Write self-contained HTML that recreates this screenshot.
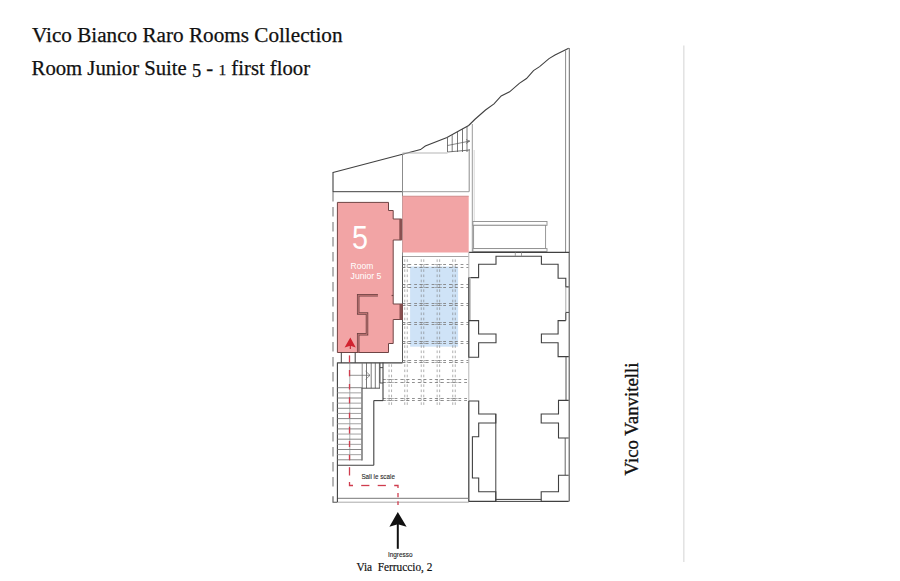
<!DOCTYPE html>
<html><head><meta charset="utf-8"><style>
html,body{margin:0;padding:0;background:#fff;width:900px;height:581px;overflow:hidden}
svg{display:block;font-family:"Liberation Sans",sans-serif}
</style></head><body>
<svg width="900" height="581" viewBox="0 0 900 581">
<polyline points="333,172.5 402.5,154.2 420.5,149.6 425.3,146 447,137.6 457.8,131.6 468.7,125.5 474.7,119.5 485.5,110 494,103.9 501.2,95.9 509.6,91.8 519.3,83.4 526.5,78.5 533.5,70.6 539.6,66.6 549,58.6 555,55 568.7,48.3" fill="none" stroke="#404040" stroke-width="1.1" stroke-linejoin="miter" />
<line x1="565.6" y1="50" x2="565.6" y2="252.5" stroke="#8c8c8c" stroke-width="1" />
<line x1="569.3" y1="48" x2="569.3" y2="252.5" stroke="#6a6a6a" stroke-width="1" />
<line x1="333" y1="172" x2="333" y2="192" stroke="#404040" stroke-width="1.1" />
<line x1="333" y1="191.7" x2="402.5" y2="191.7" stroke="#404040" stroke-width="1" />
<line x1="402.5" y1="191.7" x2="469" y2="191.7" stroke="#9c9c9c" stroke-width="1" />
<line x1="402.5" y1="154.2" x2="402.5" y2="256" stroke="#8c8c8c" stroke-width="1" />
<line x1="402.5" y1="153" x2="447.5" y2="153" stroke="#b5b5b5" stroke-width="1" />
<g stroke="#555" stroke-width="0.8">
<line x1="447.5" y1="137.8" x2="447.5" y2="152" stroke="#555" stroke-width="0.8" />
<line x1="452.2" y1="135.2" x2="452.2" y2="152" stroke="#555" stroke-width="0.8" />
<line x1="457.5" y1="131.9" x2="457.5" y2="152" stroke="#555" stroke-width="0.8" />
<line x1="462.5" y1="128.9" x2="462.5" y2="152" stroke="#555" stroke-width="0.8" />
<line x1="467" y1="126.5" x2="467" y2="152" stroke="#555" stroke-width="0.8" />
<line x1="447.5" y1="145.5" x2="470" y2="141" stroke="#555" stroke-width="0.7" />
<line x1="447.5" y1="152" x2="470" y2="150" stroke="#555" stroke-width="0.8" />
</g>
<polyline points="466,139.5 469.5,141.2 466,143.5" fill="none" stroke="#555" stroke-width="0.7" stroke-linejoin="miter" />
<line x1="469.2" y1="149" x2="469.2" y2="191.7" stroke="#8c8c8c" stroke-width="1" />
<line x1="472.3" y1="124" x2="472.3" y2="252.5" stroke="#9a9a9a" stroke-width="1" />
<line x1="474.2" y1="150" x2="474.2" y2="252.5" stroke="#d4d4d4" stroke-width="0.9" />
<rect x="472.9" y="221.5" width="74.1" height="3.8" fill="#fff" stroke="#8c8c8c" stroke-width="0.9"/>
<rect x="473.6" y="225.3" width="72" height="23.3" fill="#fff" stroke="#8c8c8c" stroke-width="0.9"/>
<rect x="472.9" y="248.6" width="74.1" height="2.8" fill="#fff" stroke="#8c8c8c" stroke-width="0.9"/>
<rect x="402.4" y="196" width="66.3" height="56.5" fill="#f2a4a5" stroke="none" stroke-width="1"/>
<line x1="402.4" y1="196.2" x2="468.7" y2="196.2" stroke="#c98a8a" stroke-width="0.8" />
<rect x="410.1" y="266.5" width="48" height="80.2" fill="#cfe3f7" stroke="none" stroke-width="1"/>
<line x1="402.6" y1="264.5" x2="468.7" y2="264.5" stroke="#7e7e7e" stroke-width="0.85" stroke-dasharray="2.8 3.0"/>
<line x1="402.6" y1="267.5" x2="468.7" y2="267.5" stroke="#7e7e7e" stroke-width="0.85" stroke-dasharray="2.8 3.0"/>
<line x1="402.6" y1="284.5" x2="468.7" y2="284.5" stroke="#7e7e7e" stroke-width="0.85" stroke-dasharray="2.8 3.0"/>
<line x1="402.6" y1="287.5" x2="468.7" y2="287.5" stroke="#7e7e7e" stroke-width="0.85" stroke-dasharray="2.8 3.0"/>
<line x1="402.6" y1="303.5" x2="468.7" y2="303.5" stroke="#7e7e7e" stroke-width="0.85" stroke-dasharray="2.8 3.0"/>
<line x1="402.6" y1="305.5" x2="468.7" y2="305.5" stroke="#7e7e7e" stroke-width="0.85" stroke-dasharray="2.8 3.0"/>
<line x1="402.6" y1="322.5" x2="468.7" y2="322.5" stroke="#7e7e7e" stroke-width="0.85" stroke-dasharray="2.8 3.0"/>
<line x1="402.6" y1="324.5" x2="468.7" y2="324.5" stroke="#7e7e7e" stroke-width="0.85" stroke-dasharray="2.8 3.0"/>
<line x1="402.6" y1="341.5" x2="468.7" y2="341.5" stroke="#7e7e7e" stroke-width="0.85" stroke-dasharray="2.8 3.0"/>
<line x1="402.6" y1="343.5" x2="468.7" y2="343.5" stroke="#7e7e7e" stroke-width="0.85" stroke-dasharray="2.8 3.0"/>
<line x1="402.6" y1="360.5" x2="468.7" y2="360.5" stroke="#7e7e7e" stroke-width="0.85" stroke-dasharray="2.8 3.0"/>
<line x1="402.6" y1="362.5" x2="468.7" y2="362.5" stroke="#7e7e7e" stroke-width="0.85" stroke-dasharray="2.8 3.0"/>
<line x1="383" y1="379.5" x2="468.7" y2="379.5" stroke="#7e7e7e" stroke-width="0.85" stroke-dasharray="2.8 3.0"/>
<line x1="383" y1="382.5" x2="468.7" y2="382.5" stroke="#7e7e7e" stroke-width="0.85" stroke-dasharray="2.8 3.0"/>
<line x1="383" y1="398.5" x2="468.7" y2="398.5" stroke="#7e7e7e" stroke-width="0.85" stroke-dasharray="2.8 3.0"/>
<line x1="383" y1="400.5" x2="468.7" y2="400.5" stroke="#7e7e7e" stroke-width="0.85" stroke-dasharray="2.8 3.0"/>
<line x1="402.6" y1="256.5" x2="468.7" y2="256.5" stroke="#9a9a9a" stroke-width="0.9" />
<line x1="402.5" y1="256" x2="402.5" y2="362.4" stroke="#555" stroke-width="1" />
<line x1="404.75" y1="259.3" x2="404.75" y2="261.90000000000003" stroke="#7a7a7a" stroke-width="0.6" />
<line x1="407.25" y1="259.3" x2="407.25" y2="261.90000000000003" stroke="#7a7a7a" stroke-width="0.6" />
<line x1="404.75" y1="269.3" x2="404.75" y2="271.90000000000003" stroke="#7a7a7a" stroke-width="0.6" />
<line x1="407.25" y1="269.3" x2="407.25" y2="271.90000000000003" stroke="#7a7a7a" stroke-width="0.6" />
<line x1="404.75" y1="274.5" x2="404.75" y2="277.1" stroke="#7a7a7a" stroke-width="0.6" />
<line x1="407.25" y1="274.5" x2="407.25" y2="277.1" stroke="#7a7a7a" stroke-width="0.6" />
<line x1="404.75" y1="279.7" x2="404.75" y2="282.3" stroke="#7a7a7a" stroke-width="0.6" />
<line x1="407.25" y1="279.7" x2="407.25" y2="282.3" stroke="#7a7a7a" stroke-width="0.6" />
<line x1="404.75" y1="289.3" x2="404.75" y2="291.90000000000003" stroke="#7a7a7a" stroke-width="0.6" />
<line x1="407.25" y1="289.3" x2="407.25" y2="291.90000000000003" stroke="#7a7a7a" stroke-width="0.6" />
<line x1="404.75" y1="294.5" x2="404.75" y2="297.1" stroke="#7a7a7a" stroke-width="0.6" />
<line x1="407.25" y1="294.5" x2="407.25" y2="297.1" stroke="#7a7a7a" stroke-width="0.6" />
<line x1="404.75" y1="299.7" x2="404.75" y2="302.3" stroke="#7a7a7a" stroke-width="0.6" />
<line x1="407.25" y1="299.7" x2="407.25" y2="302.3" stroke="#7a7a7a" stroke-width="0.6" />
<line x1="404.75" y1="307.3" x2="404.75" y2="309.90000000000003" stroke="#7a7a7a" stroke-width="0.6" />
<line x1="407.25" y1="307.3" x2="407.25" y2="309.90000000000003" stroke="#7a7a7a" stroke-width="0.6" />
<line x1="404.75" y1="312.5" x2="404.75" y2="315.1" stroke="#7a7a7a" stroke-width="0.6" />
<line x1="407.25" y1="312.5" x2="407.25" y2="315.1" stroke="#7a7a7a" stroke-width="0.6" />
<line x1="404.75" y1="317.7" x2="404.75" y2="320.3" stroke="#7a7a7a" stroke-width="0.6" />
<line x1="407.25" y1="317.7" x2="407.25" y2="320.3" stroke="#7a7a7a" stroke-width="0.6" />
<line x1="404.75" y1="326.3" x2="404.75" y2="328.90000000000003" stroke="#7a7a7a" stroke-width="0.6" />
<line x1="407.25" y1="326.3" x2="407.25" y2="328.90000000000003" stroke="#7a7a7a" stroke-width="0.6" />
<line x1="404.75" y1="331.5" x2="404.75" y2="334.1" stroke="#7a7a7a" stroke-width="0.6" />
<line x1="407.25" y1="331.5" x2="407.25" y2="334.1" stroke="#7a7a7a" stroke-width="0.6" />
<line x1="404.75" y1="336.7" x2="404.75" y2="339.3" stroke="#7a7a7a" stroke-width="0.6" />
<line x1="407.25" y1="336.7" x2="407.25" y2="339.3" stroke="#7a7a7a" stroke-width="0.6" />
<line x1="404.75" y1="345.3" x2="404.75" y2="347.90000000000003" stroke="#7a7a7a" stroke-width="0.6" />
<line x1="407.25" y1="345.3" x2="407.25" y2="347.90000000000003" stroke="#7a7a7a" stroke-width="0.6" />
<line x1="404.75" y1="350.5" x2="404.75" y2="353.1" stroke="#7a7a7a" stroke-width="0.6" />
<line x1="407.25" y1="350.5" x2="407.25" y2="353.1" stroke="#7a7a7a" stroke-width="0.6" />
<line x1="404.75" y1="355.7" x2="404.75" y2="358.3" stroke="#7a7a7a" stroke-width="0.6" />
<line x1="407.25" y1="355.7" x2="407.25" y2="358.3" stroke="#7a7a7a" stroke-width="0.6" />
<line x1="404.75" y1="364.3" x2="404.75" y2="366.90000000000003" stroke="#7a7a7a" stroke-width="0.6" />
<line x1="407.25" y1="364.3" x2="407.25" y2="366.90000000000003" stroke="#7a7a7a" stroke-width="0.6" />
<line x1="404.75" y1="369.5" x2="404.75" y2="372.1" stroke="#7a7a7a" stroke-width="0.6" />
<line x1="407.25" y1="369.5" x2="407.25" y2="372.1" stroke="#7a7a7a" stroke-width="0.6" />
<line x1="404.75" y1="374.7" x2="404.75" y2="377.3" stroke="#7a7a7a" stroke-width="0.6" />
<line x1="407.25" y1="374.7" x2="407.25" y2="377.3" stroke="#7a7a7a" stroke-width="0.6" />
<line x1="404.75" y1="384.3" x2="404.75" y2="386.90000000000003" stroke="#7a7a7a" stroke-width="0.6" />
<line x1="407.25" y1="384.3" x2="407.25" y2="386.90000000000003" stroke="#7a7a7a" stroke-width="0.6" />
<line x1="404.75" y1="389.5" x2="404.75" y2="392.1" stroke="#7a7a7a" stroke-width="0.6" />
<line x1="407.25" y1="389.5" x2="407.25" y2="392.1" stroke="#7a7a7a" stroke-width="0.6" />
<line x1="404.75" y1="394.7" x2="404.75" y2="397.3" stroke="#7a7a7a" stroke-width="0.6" />
<line x1="407.25" y1="394.7" x2="407.25" y2="397.3" stroke="#7a7a7a" stroke-width="0.6" />
<line x1="404.75" y1="402.3" x2="404.75" y2="404.90000000000003" stroke="#7a7a7a" stroke-width="0.6" />
<line x1="407.25" y1="402.3" x2="407.25" y2="404.90000000000003" stroke="#7a7a7a" stroke-width="0.6" />
<line x1="421.25" y1="259.3" x2="421.25" y2="261.90000000000003" stroke="#7a7a7a" stroke-width="0.6" />
<line x1="423.75" y1="259.3" x2="423.75" y2="261.90000000000003" stroke="#7a7a7a" stroke-width="0.6" />
<line x1="421.25" y1="269.3" x2="421.25" y2="271.90000000000003" stroke="#7a7a7a" stroke-width="0.6" />
<line x1="423.75" y1="269.3" x2="423.75" y2="271.90000000000003" stroke="#7a7a7a" stroke-width="0.6" />
<line x1="421.25" y1="274.5" x2="421.25" y2="277.1" stroke="#7a7a7a" stroke-width="0.6" />
<line x1="423.75" y1="274.5" x2="423.75" y2="277.1" stroke="#7a7a7a" stroke-width="0.6" />
<line x1="421.25" y1="279.7" x2="421.25" y2="282.3" stroke="#7a7a7a" stroke-width="0.6" />
<line x1="423.75" y1="279.7" x2="423.75" y2="282.3" stroke="#7a7a7a" stroke-width="0.6" />
<line x1="421.25" y1="289.3" x2="421.25" y2="291.90000000000003" stroke="#7a7a7a" stroke-width="0.6" />
<line x1="423.75" y1="289.3" x2="423.75" y2="291.90000000000003" stroke="#7a7a7a" stroke-width="0.6" />
<line x1="421.25" y1="294.5" x2="421.25" y2="297.1" stroke="#7a7a7a" stroke-width="0.6" />
<line x1="423.75" y1="294.5" x2="423.75" y2="297.1" stroke="#7a7a7a" stroke-width="0.6" />
<line x1="421.25" y1="299.7" x2="421.25" y2="302.3" stroke="#7a7a7a" stroke-width="0.6" />
<line x1="423.75" y1="299.7" x2="423.75" y2="302.3" stroke="#7a7a7a" stroke-width="0.6" />
<line x1="421.25" y1="307.3" x2="421.25" y2="309.90000000000003" stroke="#7a7a7a" stroke-width="0.6" />
<line x1="423.75" y1="307.3" x2="423.75" y2="309.90000000000003" stroke="#7a7a7a" stroke-width="0.6" />
<line x1="421.25" y1="312.5" x2="421.25" y2="315.1" stroke="#7a7a7a" stroke-width="0.6" />
<line x1="423.75" y1="312.5" x2="423.75" y2="315.1" stroke="#7a7a7a" stroke-width="0.6" />
<line x1="421.25" y1="317.7" x2="421.25" y2="320.3" stroke="#7a7a7a" stroke-width="0.6" />
<line x1="423.75" y1="317.7" x2="423.75" y2="320.3" stroke="#7a7a7a" stroke-width="0.6" />
<line x1="421.25" y1="326.3" x2="421.25" y2="328.90000000000003" stroke="#7a7a7a" stroke-width="0.6" />
<line x1="423.75" y1="326.3" x2="423.75" y2="328.90000000000003" stroke="#7a7a7a" stroke-width="0.6" />
<line x1="421.25" y1="331.5" x2="421.25" y2="334.1" stroke="#7a7a7a" stroke-width="0.6" />
<line x1="423.75" y1="331.5" x2="423.75" y2="334.1" stroke="#7a7a7a" stroke-width="0.6" />
<line x1="421.25" y1="336.7" x2="421.25" y2="339.3" stroke="#7a7a7a" stroke-width="0.6" />
<line x1="423.75" y1="336.7" x2="423.75" y2="339.3" stroke="#7a7a7a" stroke-width="0.6" />
<line x1="421.25" y1="345.3" x2="421.25" y2="347.90000000000003" stroke="#7a7a7a" stroke-width="0.6" />
<line x1="423.75" y1="345.3" x2="423.75" y2="347.90000000000003" stroke="#7a7a7a" stroke-width="0.6" />
<line x1="421.25" y1="350.5" x2="421.25" y2="353.1" stroke="#7a7a7a" stroke-width="0.6" />
<line x1="423.75" y1="350.5" x2="423.75" y2="353.1" stroke="#7a7a7a" stroke-width="0.6" />
<line x1="421.25" y1="355.7" x2="421.25" y2="358.3" stroke="#7a7a7a" stroke-width="0.6" />
<line x1="423.75" y1="355.7" x2="423.75" y2="358.3" stroke="#7a7a7a" stroke-width="0.6" />
<line x1="421.25" y1="364.3" x2="421.25" y2="366.90000000000003" stroke="#7a7a7a" stroke-width="0.6" />
<line x1="423.75" y1="364.3" x2="423.75" y2="366.90000000000003" stroke="#7a7a7a" stroke-width="0.6" />
<line x1="421.25" y1="369.5" x2="421.25" y2="372.1" stroke="#7a7a7a" stroke-width="0.6" />
<line x1="423.75" y1="369.5" x2="423.75" y2="372.1" stroke="#7a7a7a" stroke-width="0.6" />
<line x1="421.25" y1="374.7" x2="421.25" y2="377.3" stroke="#7a7a7a" stroke-width="0.6" />
<line x1="423.75" y1="374.7" x2="423.75" y2="377.3" stroke="#7a7a7a" stroke-width="0.6" />
<line x1="421.25" y1="384.3" x2="421.25" y2="386.90000000000003" stroke="#7a7a7a" stroke-width="0.6" />
<line x1="423.75" y1="384.3" x2="423.75" y2="386.90000000000003" stroke="#7a7a7a" stroke-width="0.6" />
<line x1="421.25" y1="389.5" x2="421.25" y2="392.1" stroke="#7a7a7a" stroke-width="0.6" />
<line x1="423.75" y1="389.5" x2="423.75" y2="392.1" stroke="#7a7a7a" stroke-width="0.6" />
<line x1="421.25" y1="394.7" x2="421.25" y2="397.3" stroke="#7a7a7a" stroke-width="0.6" />
<line x1="423.75" y1="394.7" x2="423.75" y2="397.3" stroke="#7a7a7a" stroke-width="0.6" />
<line x1="421.25" y1="402.3" x2="421.25" y2="404.90000000000003" stroke="#7a7a7a" stroke-width="0.6" />
<line x1="423.75" y1="402.3" x2="423.75" y2="404.90000000000003" stroke="#7a7a7a" stroke-width="0.6" />
<line x1="437.15" y1="259.3" x2="437.15" y2="261.90000000000003" stroke="#7a7a7a" stroke-width="0.6" />
<line x1="439.65" y1="259.3" x2="439.65" y2="261.90000000000003" stroke="#7a7a7a" stroke-width="0.6" />
<line x1="437.15" y1="269.3" x2="437.15" y2="271.90000000000003" stroke="#7a7a7a" stroke-width="0.6" />
<line x1="439.65" y1="269.3" x2="439.65" y2="271.90000000000003" stroke="#7a7a7a" stroke-width="0.6" />
<line x1="437.15" y1="274.5" x2="437.15" y2="277.1" stroke="#7a7a7a" stroke-width="0.6" />
<line x1="439.65" y1="274.5" x2="439.65" y2="277.1" stroke="#7a7a7a" stroke-width="0.6" />
<line x1="437.15" y1="279.7" x2="437.15" y2="282.3" stroke="#7a7a7a" stroke-width="0.6" />
<line x1="439.65" y1="279.7" x2="439.65" y2="282.3" stroke="#7a7a7a" stroke-width="0.6" />
<line x1="437.15" y1="289.3" x2="437.15" y2="291.90000000000003" stroke="#7a7a7a" stroke-width="0.6" />
<line x1="439.65" y1="289.3" x2="439.65" y2="291.90000000000003" stroke="#7a7a7a" stroke-width="0.6" />
<line x1="437.15" y1="294.5" x2="437.15" y2="297.1" stroke="#7a7a7a" stroke-width="0.6" />
<line x1="439.65" y1="294.5" x2="439.65" y2="297.1" stroke="#7a7a7a" stroke-width="0.6" />
<line x1="437.15" y1="299.7" x2="437.15" y2="302.3" stroke="#7a7a7a" stroke-width="0.6" />
<line x1="439.65" y1="299.7" x2="439.65" y2="302.3" stroke="#7a7a7a" stroke-width="0.6" />
<line x1="437.15" y1="307.3" x2="437.15" y2="309.90000000000003" stroke="#7a7a7a" stroke-width="0.6" />
<line x1="439.65" y1="307.3" x2="439.65" y2="309.90000000000003" stroke="#7a7a7a" stroke-width="0.6" />
<line x1="437.15" y1="312.5" x2="437.15" y2="315.1" stroke="#7a7a7a" stroke-width="0.6" />
<line x1="439.65" y1="312.5" x2="439.65" y2="315.1" stroke="#7a7a7a" stroke-width="0.6" />
<line x1="437.15" y1="317.7" x2="437.15" y2="320.3" stroke="#7a7a7a" stroke-width="0.6" />
<line x1="439.65" y1="317.7" x2="439.65" y2="320.3" stroke="#7a7a7a" stroke-width="0.6" />
<line x1="437.15" y1="326.3" x2="437.15" y2="328.90000000000003" stroke="#7a7a7a" stroke-width="0.6" />
<line x1="439.65" y1="326.3" x2="439.65" y2="328.90000000000003" stroke="#7a7a7a" stroke-width="0.6" />
<line x1="437.15" y1="331.5" x2="437.15" y2="334.1" stroke="#7a7a7a" stroke-width="0.6" />
<line x1="439.65" y1="331.5" x2="439.65" y2="334.1" stroke="#7a7a7a" stroke-width="0.6" />
<line x1="437.15" y1="336.7" x2="437.15" y2="339.3" stroke="#7a7a7a" stroke-width="0.6" />
<line x1="439.65" y1="336.7" x2="439.65" y2="339.3" stroke="#7a7a7a" stroke-width="0.6" />
<line x1="437.15" y1="345.3" x2="437.15" y2="347.90000000000003" stroke="#7a7a7a" stroke-width="0.6" />
<line x1="439.65" y1="345.3" x2="439.65" y2="347.90000000000003" stroke="#7a7a7a" stroke-width="0.6" />
<line x1="437.15" y1="350.5" x2="437.15" y2="353.1" stroke="#7a7a7a" stroke-width="0.6" />
<line x1="439.65" y1="350.5" x2="439.65" y2="353.1" stroke="#7a7a7a" stroke-width="0.6" />
<line x1="437.15" y1="355.7" x2="437.15" y2="358.3" stroke="#7a7a7a" stroke-width="0.6" />
<line x1="439.65" y1="355.7" x2="439.65" y2="358.3" stroke="#7a7a7a" stroke-width="0.6" />
<line x1="437.15" y1="364.3" x2="437.15" y2="366.90000000000003" stroke="#7a7a7a" stroke-width="0.6" />
<line x1="439.65" y1="364.3" x2="439.65" y2="366.90000000000003" stroke="#7a7a7a" stroke-width="0.6" />
<line x1="437.15" y1="369.5" x2="437.15" y2="372.1" stroke="#7a7a7a" stroke-width="0.6" />
<line x1="439.65" y1="369.5" x2="439.65" y2="372.1" stroke="#7a7a7a" stroke-width="0.6" />
<line x1="437.15" y1="374.7" x2="437.15" y2="377.3" stroke="#7a7a7a" stroke-width="0.6" />
<line x1="439.65" y1="374.7" x2="439.65" y2="377.3" stroke="#7a7a7a" stroke-width="0.6" />
<line x1="437.15" y1="384.3" x2="437.15" y2="386.90000000000003" stroke="#7a7a7a" stroke-width="0.6" />
<line x1="439.65" y1="384.3" x2="439.65" y2="386.90000000000003" stroke="#7a7a7a" stroke-width="0.6" />
<line x1="437.15" y1="389.5" x2="437.15" y2="392.1" stroke="#7a7a7a" stroke-width="0.6" />
<line x1="439.65" y1="389.5" x2="439.65" y2="392.1" stroke="#7a7a7a" stroke-width="0.6" />
<line x1="437.15" y1="394.7" x2="437.15" y2="397.3" stroke="#7a7a7a" stroke-width="0.6" />
<line x1="439.65" y1="394.7" x2="439.65" y2="397.3" stroke="#7a7a7a" stroke-width="0.6" />
<line x1="437.15" y1="402.3" x2="437.15" y2="404.90000000000003" stroke="#7a7a7a" stroke-width="0.6" />
<line x1="439.65" y1="402.3" x2="439.65" y2="404.90000000000003" stroke="#7a7a7a" stroke-width="0.6" />
<line x1="452.75" y1="259.3" x2="452.75" y2="261.90000000000003" stroke="#7a7a7a" stroke-width="0.6" />
<line x1="455.25" y1="259.3" x2="455.25" y2="261.90000000000003" stroke="#7a7a7a" stroke-width="0.6" />
<line x1="452.75" y1="269.3" x2="452.75" y2="271.90000000000003" stroke="#7a7a7a" stroke-width="0.6" />
<line x1="455.25" y1="269.3" x2="455.25" y2="271.90000000000003" stroke="#7a7a7a" stroke-width="0.6" />
<line x1="452.75" y1="274.5" x2="452.75" y2="277.1" stroke="#7a7a7a" stroke-width="0.6" />
<line x1="455.25" y1="274.5" x2="455.25" y2="277.1" stroke="#7a7a7a" stroke-width="0.6" />
<line x1="452.75" y1="279.7" x2="452.75" y2="282.3" stroke="#7a7a7a" stroke-width="0.6" />
<line x1="455.25" y1="279.7" x2="455.25" y2="282.3" stroke="#7a7a7a" stroke-width="0.6" />
<line x1="452.75" y1="289.3" x2="452.75" y2="291.90000000000003" stroke="#7a7a7a" stroke-width="0.6" />
<line x1="455.25" y1="289.3" x2="455.25" y2="291.90000000000003" stroke="#7a7a7a" stroke-width="0.6" />
<line x1="452.75" y1="294.5" x2="452.75" y2="297.1" stroke="#7a7a7a" stroke-width="0.6" />
<line x1="455.25" y1="294.5" x2="455.25" y2="297.1" stroke="#7a7a7a" stroke-width="0.6" />
<line x1="452.75" y1="299.7" x2="452.75" y2="302.3" stroke="#7a7a7a" stroke-width="0.6" />
<line x1="455.25" y1="299.7" x2="455.25" y2="302.3" stroke="#7a7a7a" stroke-width="0.6" />
<line x1="452.75" y1="307.3" x2="452.75" y2="309.90000000000003" stroke="#7a7a7a" stroke-width="0.6" />
<line x1="455.25" y1="307.3" x2="455.25" y2="309.90000000000003" stroke="#7a7a7a" stroke-width="0.6" />
<line x1="452.75" y1="312.5" x2="452.75" y2="315.1" stroke="#7a7a7a" stroke-width="0.6" />
<line x1="455.25" y1="312.5" x2="455.25" y2="315.1" stroke="#7a7a7a" stroke-width="0.6" />
<line x1="452.75" y1="317.7" x2="452.75" y2="320.3" stroke="#7a7a7a" stroke-width="0.6" />
<line x1="455.25" y1="317.7" x2="455.25" y2="320.3" stroke="#7a7a7a" stroke-width="0.6" />
<line x1="452.75" y1="326.3" x2="452.75" y2="328.90000000000003" stroke="#7a7a7a" stroke-width="0.6" />
<line x1="455.25" y1="326.3" x2="455.25" y2="328.90000000000003" stroke="#7a7a7a" stroke-width="0.6" />
<line x1="452.75" y1="331.5" x2="452.75" y2="334.1" stroke="#7a7a7a" stroke-width="0.6" />
<line x1="455.25" y1="331.5" x2="455.25" y2="334.1" stroke="#7a7a7a" stroke-width="0.6" />
<line x1="452.75" y1="336.7" x2="452.75" y2="339.3" stroke="#7a7a7a" stroke-width="0.6" />
<line x1="455.25" y1="336.7" x2="455.25" y2="339.3" stroke="#7a7a7a" stroke-width="0.6" />
<line x1="452.75" y1="345.3" x2="452.75" y2="347.90000000000003" stroke="#7a7a7a" stroke-width="0.6" />
<line x1="455.25" y1="345.3" x2="455.25" y2="347.90000000000003" stroke="#7a7a7a" stroke-width="0.6" />
<line x1="452.75" y1="350.5" x2="452.75" y2="353.1" stroke="#7a7a7a" stroke-width="0.6" />
<line x1="455.25" y1="350.5" x2="455.25" y2="353.1" stroke="#7a7a7a" stroke-width="0.6" />
<line x1="452.75" y1="355.7" x2="452.75" y2="358.3" stroke="#7a7a7a" stroke-width="0.6" />
<line x1="455.25" y1="355.7" x2="455.25" y2="358.3" stroke="#7a7a7a" stroke-width="0.6" />
<line x1="452.75" y1="364.3" x2="452.75" y2="366.90000000000003" stroke="#7a7a7a" stroke-width="0.6" />
<line x1="455.25" y1="364.3" x2="455.25" y2="366.90000000000003" stroke="#7a7a7a" stroke-width="0.6" />
<line x1="452.75" y1="369.5" x2="452.75" y2="372.1" stroke="#7a7a7a" stroke-width="0.6" />
<line x1="455.25" y1="369.5" x2="455.25" y2="372.1" stroke="#7a7a7a" stroke-width="0.6" />
<line x1="452.75" y1="374.7" x2="452.75" y2="377.3" stroke="#7a7a7a" stroke-width="0.6" />
<line x1="455.25" y1="374.7" x2="455.25" y2="377.3" stroke="#7a7a7a" stroke-width="0.6" />
<line x1="452.75" y1="384.3" x2="452.75" y2="386.90000000000003" stroke="#7a7a7a" stroke-width="0.6" />
<line x1="455.25" y1="384.3" x2="455.25" y2="386.90000000000003" stroke="#7a7a7a" stroke-width="0.6" />
<line x1="452.75" y1="389.5" x2="452.75" y2="392.1" stroke="#7a7a7a" stroke-width="0.6" />
<line x1="455.25" y1="389.5" x2="455.25" y2="392.1" stroke="#7a7a7a" stroke-width="0.6" />
<line x1="452.75" y1="394.7" x2="452.75" y2="397.3" stroke="#7a7a7a" stroke-width="0.6" />
<line x1="455.25" y1="394.7" x2="455.25" y2="397.3" stroke="#7a7a7a" stroke-width="0.6" />
<line x1="452.75" y1="402.3" x2="452.75" y2="404.90000000000003" stroke="#7a7a7a" stroke-width="0.6" />
<line x1="455.25" y1="402.3" x2="455.25" y2="404.90000000000003" stroke="#7a7a7a" stroke-width="0.6" />
<line x1="389.05" y1="364.3" x2="389.05" y2="366.90000000000003" stroke="#7a7a7a" stroke-width="0.6" />
<line x1="391.55" y1="364.3" x2="391.55" y2="366.90000000000003" stroke="#7a7a7a" stroke-width="0.6" />
<line x1="389.05" y1="369.5" x2="389.05" y2="372.1" stroke="#7a7a7a" stroke-width="0.6" />
<line x1="391.55" y1="369.5" x2="391.55" y2="372.1" stroke="#7a7a7a" stroke-width="0.6" />
<line x1="389.05" y1="374.7" x2="389.05" y2="377.3" stroke="#7a7a7a" stroke-width="0.6" />
<line x1="391.55" y1="374.7" x2="391.55" y2="377.3" stroke="#7a7a7a" stroke-width="0.6" />
<line x1="389.05" y1="384.3" x2="389.05" y2="386.90000000000003" stroke="#7a7a7a" stroke-width="0.6" />
<line x1="391.55" y1="384.3" x2="391.55" y2="386.90000000000003" stroke="#7a7a7a" stroke-width="0.6" />
<line x1="389.05" y1="389.5" x2="389.05" y2="392.1" stroke="#7a7a7a" stroke-width="0.6" />
<line x1="391.55" y1="389.5" x2="391.55" y2="392.1" stroke="#7a7a7a" stroke-width="0.6" />
<line x1="389.05" y1="394.7" x2="389.05" y2="397.3" stroke="#7a7a7a" stroke-width="0.6" />
<line x1="391.55" y1="394.7" x2="391.55" y2="397.3" stroke="#7a7a7a" stroke-width="0.6" />
<line x1="389.05" y1="402.3" x2="389.05" y2="404.90000000000003" stroke="#7a7a7a" stroke-width="0.6" />
<line x1="391.55" y1="402.3" x2="391.55" y2="404.90000000000003" stroke="#7a7a7a" stroke-width="0.6" />
<path d="M402.4,264.5 H404.75 V267.5 H402.4 M409.6,264.5 H407.25 V267.5 H409.6" fill="none" stroke="#858585" stroke-width="0.6"/>
<path d="M418.9,264.5 H421.25 V267.5 H418.9 M426.1,264.5 H423.75 V267.5 H426.1" fill="none" stroke="#858585" stroke-width="0.6"/>
<path d="M434.79999999999995,264.5 H437.15 V267.5 H434.79999999999995 M442.0,264.5 H439.65 V267.5 H442.0" fill="none" stroke="#858585" stroke-width="0.6"/>
<path d="M450.4,264.5 H452.75 V267.5 H450.4 M457.6,264.5 H455.25 V267.5 H457.6" fill="none" stroke="#858585" stroke-width="0.6"/>
<path d="M402.4,284.5 H404.75 V287.5 H402.4 M409.6,284.5 H407.25 V287.5 H409.6" fill="none" stroke="#858585" stroke-width="0.6"/>
<path d="M418.9,284.5 H421.25 V287.5 H418.9 M426.1,284.5 H423.75 V287.5 H426.1" fill="none" stroke="#858585" stroke-width="0.6"/>
<path d="M434.79999999999995,284.5 H437.15 V287.5 H434.79999999999995 M442.0,284.5 H439.65 V287.5 H442.0" fill="none" stroke="#858585" stroke-width="0.6"/>
<path d="M450.4,284.5 H452.75 V287.5 H450.4 M457.6,284.5 H455.25 V287.5 H457.6" fill="none" stroke="#858585" stroke-width="0.6"/>
<path d="M402.4,303.5 H404.75 V305.5 H402.4 M409.6,303.5 H407.25 V305.5 H409.6" fill="none" stroke="#858585" stroke-width="0.6"/>
<path d="M418.9,303.5 H421.25 V305.5 H418.9 M426.1,303.5 H423.75 V305.5 H426.1" fill="none" stroke="#858585" stroke-width="0.6"/>
<path d="M434.79999999999995,303.5 H437.15 V305.5 H434.79999999999995 M442.0,303.5 H439.65 V305.5 H442.0" fill="none" stroke="#858585" stroke-width="0.6"/>
<path d="M450.4,303.5 H452.75 V305.5 H450.4 M457.6,303.5 H455.25 V305.5 H457.6" fill="none" stroke="#858585" stroke-width="0.6"/>
<path d="M402.4,322.5 H404.75 V324.5 H402.4 M409.6,322.5 H407.25 V324.5 H409.6" fill="none" stroke="#858585" stroke-width="0.6"/>
<path d="M418.9,322.5 H421.25 V324.5 H418.9 M426.1,322.5 H423.75 V324.5 H426.1" fill="none" stroke="#858585" stroke-width="0.6"/>
<path d="M434.79999999999995,322.5 H437.15 V324.5 H434.79999999999995 M442.0,322.5 H439.65 V324.5 H442.0" fill="none" stroke="#858585" stroke-width="0.6"/>
<path d="M450.4,322.5 H452.75 V324.5 H450.4 M457.6,322.5 H455.25 V324.5 H457.6" fill="none" stroke="#858585" stroke-width="0.6"/>
<path d="M402.4,341.5 H404.75 V343.5 H402.4 M409.6,341.5 H407.25 V343.5 H409.6" fill="none" stroke="#858585" stroke-width="0.6"/>
<path d="M418.9,341.5 H421.25 V343.5 H418.9 M426.1,341.5 H423.75 V343.5 H426.1" fill="none" stroke="#858585" stroke-width="0.6"/>
<path d="M434.79999999999995,341.5 H437.15 V343.5 H434.79999999999995 M442.0,341.5 H439.65 V343.5 H442.0" fill="none" stroke="#858585" stroke-width="0.6"/>
<path d="M450.4,341.5 H452.75 V343.5 H450.4 M457.6,341.5 H455.25 V343.5 H457.6" fill="none" stroke="#858585" stroke-width="0.6"/>
<path d="M402.4,360.5 H404.75 V362.5 H402.4 M409.6,360.5 H407.25 V362.5 H409.6" fill="none" stroke="#858585" stroke-width="0.6"/>
<path d="M418.9,360.5 H421.25 V362.5 H418.9 M426.1,360.5 H423.75 V362.5 H426.1" fill="none" stroke="#858585" stroke-width="0.6"/>
<path d="M434.79999999999995,360.5 H437.15 V362.5 H434.79999999999995 M442.0,360.5 H439.65 V362.5 H442.0" fill="none" stroke="#858585" stroke-width="0.6"/>
<path d="M450.4,360.5 H452.75 V362.5 H450.4 M457.6,360.5 H455.25 V362.5 H457.6" fill="none" stroke="#858585" stroke-width="0.6"/>
<path d="M402.4,379.5 H404.75 V382.5 H402.4 M409.6,379.5 H407.25 V382.5 H409.6" fill="none" stroke="#858585" stroke-width="0.6"/>
<path d="M418.9,379.5 H421.25 V382.5 H418.9 M426.1,379.5 H423.75 V382.5 H426.1" fill="none" stroke="#858585" stroke-width="0.6"/>
<path d="M434.79999999999995,379.5 H437.15 V382.5 H434.79999999999995 M442.0,379.5 H439.65 V382.5 H442.0" fill="none" stroke="#858585" stroke-width="0.6"/>
<path d="M450.4,379.5 H452.75 V382.5 H450.4 M457.6,379.5 H455.25 V382.5 H457.6" fill="none" stroke="#858585" stroke-width="0.6"/>
<path d="M386.7,379.5 H389.05 V382.5 H386.7 M393.90000000000003,379.5 H391.55 V382.5 H393.90000000000003" fill="none" stroke="#858585" stroke-width="0.6"/>
<path d="M402.4,398.5 H404.75 V400.5 H402.4 M409.6,398.5 H407.25 V400.5 H409.6" fill="none" stroke="#858585" stroke-width="0.6"/>
<path d="M418.9,398.5 H421.25 V400.5 H418.9 M426.1,398.5 H423.75 V400.5 H426.1" fill="none" stroke="#858585" stroke-width="0.6"/>
<path d="M434.79999999999995,398.5 H437.15 V400.5 H434.79999999999995 M442.0,398.5 H439.65 V400.5 H442.0" fill="none" stroke="#858585" stroke-width="0.6"/>
<path d="M450.4,398.5 H452.75 V400.5 H450.4 M457.6,398.5 H455.25 V400.5 H457.6" fill="none" stroke="#858585" stroke-width="0.6"/>
<path d="M386.7,398.5 H389.05 V400.5 H386.7 M393.90000000000003,398.5 H391.55 V400.5 H393.90000000000003" fill="none" stroke="#858585" stroke-width="0.6"/>
<polygon points="337.4,202.4 388.5,202.4 388.5,210.5 393.2,210.5 393.2,219 401.7,219 401.7,240 393.2,240 393.2,304 402.4,304 402.4,319.5 393.2,319.5 393.2,343.5 388.5,343.5 388.5,352.5 337.4,352.5" fill="#f2a4a5" stroke="#6e4444" stroke-width="1" stroke-linejoin="miter" />
<rect x="399.3" y="219" width="2.6" height="21" fill="#8a5050" stroke="none" stroke-width="1"/>
<rect x="399.5" y="304" width="2.9" height="15.5" fill="#8a5050" stroke="none" stroke-width="1"/>
<line x1="391.6" y1="295.5" x2="393.2" y2="295.5" stroke="#6e4444" stroke-width="1.2" />
<path d="M377.9,295.3 H358.2 V313.4 H367 V334.3 H358.2 V352.5" fill="none" stroke="#6e4444" stroke-width="2.5" stroke-linejoin="miter"/>
<path d="M377.9,295.3 H358.2 V313.4 H367 V334.3 H358.2 V352.5" fill="none" stroke="#cf7d7d" stroke-width="0.9" stroke-linejoin="miter"/>
<text x="352" y="249" font-family="Liberation Sans, sans-serif" font-size="33.5" fill="#fff" textLength="16" lengthAdjust="spacingAndGlyphs">5</text>
<text x="350.6" y="268.6" font-family="Liberation Sans, sans-serif" font-size="9.2" fill="#fff" textLength="22.6" lengthAdjust="spacingAndGlyphs">Room</text>
<text x="350.6" y="279.2" font-family="Liberation Sans, sans-serif" font-size="9.2" fill="#fff" textLength="30.8" lengthAdjust="spacingAndGlyphs">Junior 5</text>
<line x1="333" y1="192" x2="333" y2="490" stroke="#6f6f6f" stroke-width="1" stroke-dasharray="9.5 5.5"/>
<polyline points="468.8,277.6 478.6,277.6 478.6,264.3 496,264.3 496,256.2 541.4,256.2 541.4,264.3 558.1,264.3 558.1,278.3 565.8,278.3 565.8,286.9 568.8,286.9" fill="none" stroke="#404040" stroke-width="1.1" stroke-linejoin="miter" />
<line x1="565.8" y1="286.9" x2="565.8" y2="312.4" stroke="#aaaaaa" stroke-width="1" />
<line x1="565.8" y1="312.4" x2="569" y2="312.4" stroke="#404040" stroke-width="1" />
<line x1="565.8" y1="312.4" x2="565.8" y2="320.6" stroke="#404040" stroke-width="1.1" />
<line x1="569.2" y1="252.4" x2="569.2" y2="501.6" stroke="#555" stroke-width="1.1" />
<polyline points="565.8,320.6 558.1,320.6 558.1,334 541.4,334 541.4,342.7 558.1,342.7 558.1,356.6 568.8,356.6" fill="none" stroke="#404040" stroke-width="1.1" stroke-linejoin="miter" />
<line x1="566" y1="357" x2="566" y2="400.4" stroke="#555" stroke-width="1" />
<polyline points="568.7,400.4 558.5,400.4 558.5,414 541.2,414 541.2,423 558.5,423 558.5,438 568.7,438" fill="none" stroke="#404040" stroke-width="1.1" stroke-linejoin="miter" />
<line x1="565.2" y1="438" x2="565.2" y2="475.2" stroke="#555" stroke-width="0.9" />
<polyline points="568.7,475.2 558.5,475.2 558.5,491.8 541.2,491.8 541.2,501.4 568.7,501.4" fill="none" stroke="#404040" stroke-width="1.1" stroke-linejoin="miter" />
<line x1="468.8" y1="252.4" x2="569.4" y2="252.4" stroke="#404040" stroke-width="1.1" />
<line x1="515.3" y1="252.4" x2="515.3" y2="256.2" stroke="#8c8c8c" stroke-width="0.8" />
<line x1="521.5" y1="252.4" x2="521.5" y2="256.2" stroke="#8c8c8c" stroke-width="0.8" />
<line x1="468.8" y1="252.4" x2="468.8" y2="501.4" stroke="#b5b5b5" stroke-width="1" />
<rect x="468.6" y="277.6" width="2.4" height="43" fill="#c8c8c8" stroke="none" stroke-width="1"/>
<polyline points="468.8,277.6 468.8,320.6 478.6,320.6 478.6,334 496,334 496,342.7 478.6,342.7 478.6,357.3 468.8,357.3 468.8,320.6" fill="none" stroke="#404040" stroke-width="1.1" stroke-linejoin="miter" />
<polyline points="468.8,401 478.7,401 478.7,414 495.8,414 495.8,423 478.7,423 478.7,436.7 472.4,436.7 472.4,478 478.7,478 478.7,491.8 495.8,491.8 495.8,501.4 468.8,501.4 468.8,401" fill="none" stroke="#404040" stroke-width="1.1" stroke-linejoin="miter" />
<line x1="495.8" y1="414" x2="495.8" y2="501.4" stroke="#404040" stroke-width="1" />
<line x1="495.8" y1="499.4" x2="541.2" y2="499.4" stroke="#404040" stroke-width="1" />
<line x1="495.8" y1="501.4" x2="541.2" y2="501.4" stroke="#404040" stroke-width="1" />
<line x1="337.4" y1="498.3" x2="468.8" y2="498.3" stroke="#777" stroke-width="1" />
<line x1="337.4" y1="502.2" x2="468.8" y2="502.2" stroke="#aaa" stroke-width="1" />
<polyline points="333,496.2 333,502.2 337.4,502.2" fill="none" stroke="#555" stroke-width="1.1" stroke-linejoin="miter" />
<line x1="341.3" y1="352.5" x2="341.3" y2="362.9" stroke="#404040" stroke-width="1" />
<line x1="355.2" y1="352.5" x2="355.2" y2="362.9" stroke="#404040" stroke-width="1" />
<line x1="337.4" y1="362.9" x2="402.5" y2="362.9" stroke="#404040" stroke-width="1.1" />
<line x1="366.5" y1="362.9" x2="366.5" y2="388.2" stroke="#555" stroke-width="0.8" />
<line x1="371.2" y1="362.9" x2="371.2" y2="388.2" stroke="#555" stroke-width="0.8" />
<line x1="375.3" y1="362.9" x2="375.3" y2="388.2" stroke="#555" stroke-width="0.8" />
<line x1="379.4" y1="362.9" x2="379.4" y2="388.2" stroke="#555" stroke-width="0.8" />
<line x1="362.2" y1="362.9" x2="362.2" y2="388.2" stroke="#777" stroke-width="0.9" />
<line x1="362.0" y1="388.2" x2="362.0" y2="460.5" stroke="#404040" stroke-width="1.1" />
<line x1="361.4" y1="388.2" x2="380" y2="388.2" stroke="#444" stroke-width="0.9" />
<line x1="380" y1="362.9" x2="380" y2="383" stroke="#444" stroke-width="0.9" />
<line x1="380" y1="367.6" x2="383" y2="367.6" stroke="#444" stroke-width="0.9" />
<line x1="380" y1="383" x2="383" y2="383" stroke="#444" stroke-width="0.9" />
<line x1="383" y1="362.4" x2="383" y2="400.6" stroke="#404040" stroke-width="1.1" />
<line x1="373.8" y1="400.6" x2="383" y2="400.6" stroke="#404040" stroke-width="1.1" />
<line x1="373.8" y1="400.6" x2="373.8" y2="465.3" stroke="#404040" stroke-width="1.1" />
<line x1="337.4" y1="465.3" x2="373.8" y2="465.3" stroke="#404040" stroke-width="1.1" />
<line x1="337.4" y1="362.4" x2="337.4" y2="502" stroke="#404040" stroke-width="1.1" />
<line x1="349.8" y1="362.9" x2="349.8" y2="460.5" stroke="#8a8a8a" stroke-width="0.7" />
<line x1="337.4" y1="387.7" x2="362.0" y2="387.7" stroke="#7a7a7a" stroke-width="0.9" />
<line x1="337.4" y1="392.84999999999997" x2="362.0" y2="392.84999999999997" stroke="#9a9a9a" stroke-width="0.9" />
<line x1="337.4" y1="397.99999999999994" x2="362.0" y2="397.99999999999994" stroke="#7a7a7a" stroke-width="0.9" />
<line x1="337.4" y1="403.1499999999999" x2="362.0" y2="403.1499999999999" stroke="#9a9a9a" stroke-width="0.9" />
<line x1="337.4" y1="408.2999999999999" x2="362.0" y2="408.2999999999999" stroke="#7a7a7a" stroke-width="0.9" />
<line x1="337.4" y1="413.4499999999999" x2="362.0" y2="413.4499999999999" stroke="#9a9a9a" stroke-width="0.9" />
<line x1="337.4" y1="418.59999999999985" x2="362.0" y2="418.59999999999985" stroke="#7a7a7a" stroke-width="0.9" />
<line x1="337.4" y1="423.74999999999983" x2="362.0" y2="423.74999999999983" stroke="#9a9a9a" stroke-width="0.9" />
<line x1="337.4" y1="428.8999999999998" x2="362.0" y2="428.8999999999998" stroke="#7a7a7a" stroke-width="0.9" />
<line x1="337.4" y1="434.0499999999998" x2="362.0" y2="434.0499999999998" stroke="#9a9a9a" stroke-width="0.9" />
<line x1="337.4" y1="439.19999999999976" x2="362.0" y2="439.19999999999976" stroke="#7a7a7a" stroke-width="0.9" />
<line x1="337.4" y1="444.34999999999974" x2="362.0" y2="444.34999999999974" stroke="#9a9a9a" stroke-width="0.9" />
<line x1="337.4" y1="449.4999999999997" x2="362.0" y2="449.4999999999997" stroke="#7a7a7a" stroke-width="0.9" />
<line x1="337.4" y1="454.6499999999997" x2="362.0" y2="454.6499999999997" stroke="#9a9a9a" stroke-width="0.9" />
<line x1="337.4" y1="459.79999999999967" x2="362.0" y2="459.79999999999967" stroke="#7a7a7a" stroke-width="0.9" />
<line x1="349.8" y1="375.3" x2="370" y2="375.3" stroke="#666" stroke-width="0.7" />
<polyline points="365.6,371.2 370,375.3 365.6,379.4" fill="none" stroke="#666" stroke-width="0.7" stroke-linejoin="miter" />
<line x1="349.5" y1="355.4" x2="349.5" y2="362.4" stroke="#cf3c4e" stroke-width="1.3" />
<line x1="349.5" y1="370" x2="349.5" y2="376.3" stroke="#cf3c4e" stroke-width="1.3" />
<line x1="349.5" y1="384" x2="349.5" y2="389.5" stroke="#cf3c4e" stroke-width="1.3" />
<line x1="349.5" y1="397.2" x2="349.5" y2="403.4" stroke="#cf3c4e" stroke-width="1.3" />
<line x1="349.5" y1="412.7" x2="349.5" y2="418.2" stroke="#cf3c4e" stroke-width="1.3" />
<line x1="349.5" y1="426.7" x2="349.5" y2="433.6" stroke="#cf3c4e" stroke-width="1.3" />
<line x1="349.5" y1="441" x2="349.5" y2="447" stroke="#cf3c4e" stroke-width="1.3" />
<line x1="349.5" y1="454.8" x2="349.5" y2="460.2" stroke="#cf3c4e" stroke-width="1.3" />
<line x1="349.5" y1="467.2" x2="349.5" y2="475.5" stroke="#cf3c4e" stroke-width="1.3" />
<polyline points="349.5,482 349.5,485.5 353,485.5" fill="none" stroke="#cf3c4e" stroke-width="1.3" stroke-linejoin="miter" />
<line x1="361.2" y1="485.5" x2="369.4" y2="485.5" stroke="#cf3c4e" stroke-width="1.3" />
<line x1="377.7" y1="485.5" x2="385.9" y2="485.5" stroke="#cf3c4e" stroke-width="1.3" />
<polyline points="394.2,485.5 398,485.5 398,488" fill="none" stroke="#cf3c4e" stroke-width="1.3" stroke-linejoin="miter" />
<line x1="398" y1="493" x2="398" y2="497.2" stroke="#cf3c4e" stroke-width="1.3" />
<line x1="398" y1="501.3" x2="398" y2="505" stroke="#cf3c4e" stroke-width="1.3" />
<path d="M350.3,337.4 L355.8,347.6 L350.3,345.8 L344.6,347.6 Z" fill="#d2222f"/>
<line x1="350.3" y1="345" x2="350.3" y2="349" stroke="#c02030" stroke-width="1.1" />
<path d="M397.8,512 L406.6,526.8 L397.8,524.2 L389.4,526.8 Z" fill="#111"/>
<line x1="397.8" y1="524" x2="397.8" y2="548.8" stroke="#111" stroke-width="2" />
<text x="361.4" y="478.8" font-family="Liberation Sans, sans-serif" font-size="7.8" fill="#2a2a2a" stroke="#2a2a2a" stroke-width="0.12" textLength="33.5" lengthAdjust="spacingAndGlyphs">Sali le scale</text>
<text x="387.9" y="557.4" font-family="Liberation Sans, sans-serif" font-size="6.8" fill="#222" stroke="#222" stroke-width="0.1" textLength="24.7" lengthAdjust="spacingAndGlyphs">Ingresso</text>
<text x="356.4" y="571.3" font-family="Liberation Serif, serif" font-size="12.8" fill="#111" stroke="#111" stroke-width="0.2" xml:space="preserve" textLength="76" lengthAdjust="spacingAndGlyphs">Via  Ferruccio, 2</text>
<line x1="683.8" y1="45.5" x2="683.8" y2="562" stroke="#e2e2e2" stroke-width="1.5" />
<text transform="translate(637.6,475.5) rotate(-90)" font-family="Liberation Serif, serif" font-size="19.3" fill="#111" stroke="#111" stroke-width="0.35" textLength="113" lengthAdjust="spacingAndGlyphs">Vico Vanvitelli</text>
<text x="32" y="42" font-family="Liberation Serif, serif" font-size="20.5" fill="#111" stroke="#111" stroke-width="0.25" textLength="310.5" lengthAdjust="spacingAndGlyphs">Vico Bianco Raro Rooms Collection</text>
<text x="31.6" y="74.6" font-family="Liberation Serif, serif" font-size="20.5" fill="#111" stroke="#111" stroke-width="0.25" textLength="278.5" lengthAdjust="spacingAndGlyphs">Room Junior Suite <tspan font-size="18.2" dy="2.1">5</tspan><tspan dy="-2.1"> - </tspan><tspan font-size="15.4">1</tspan> first floor</text>
</svg>
</body></html>
